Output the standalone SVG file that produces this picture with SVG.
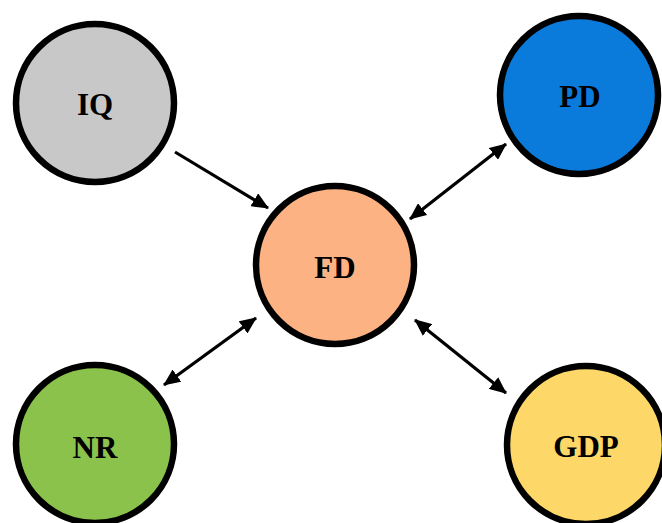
<svg xmlns="http://www.w3.org/2000/svg" width="662" height="523" viewBox="0 0 662 523">
<style>
.node{stroke:#000;stroke-width:6.5}
.lbl{font-family:"Liberation Serif","Times New Roman",serif;font-weight:bold;font-size:31px;fill:#000;text-anchor:middle;dominant-baseline:central}
.edge{stroke:#000;stroke-width:3.2;fill:none}
</style>
<defs>
<marker id="ah" markerUnits="userSpaceOnUse" markerWidth="17" markerHeight="15" refX="16" refY="7.5" orient="auto-start-reverse">
<path d="M0,0 L17,7.5 L0,15 z" fill="#000"/>
</marker>
</defs>
<rect width="662" height="523" fill="#fff"/>
<g id="connectors">
<line class="edge" x1="175" y1="152" x2="268" y2="208" marker-end="url(#ah)"/>
<line class="edge" x1="410" y1="219" x2="506" y2="144" marker-start="url(#ah)" marker-end="url(#ah)"/>
<line class="edge" x1="164" y1="385" x2="256" y2="318" marker-start="url(#ah)" marker-end="url(#ah)"/>
<line class="edge" x1="415" y1="320" x2="506" y2="393" marker-start="url(#ah)" marker-end="url(#ah)"/>
</g>
<g id="IQ"><circle class="node" cx="95" cy="103" r="79" fill="#C8C8C8"/><text class="lbl" x="95" y="104">IQ</text></g>
<g id="PD"><circle class="node" cx="579" cy="95" r="79" fill="#0A7BDB"/><text class="lbl" x="580" y="96">PD</text></g>
<g id="FD"><circle class="node" cx="335" cy="265" r="79" fill="#FCB283"/><text class="lbl" x="335" y="267">FD</text></g>
<g id="NR"><circle class="node" cx="95" cy="444" r="79" fill="#8BC24C"/><text class="lbl" x="95" y="447">NR</text></g>
<g id="GDP"><circle class="node" cx="586" cy="445" r="79" fill="#FDD868"/><text class="lbl" x="586" y="446">GDP</text></g>
</svg>
